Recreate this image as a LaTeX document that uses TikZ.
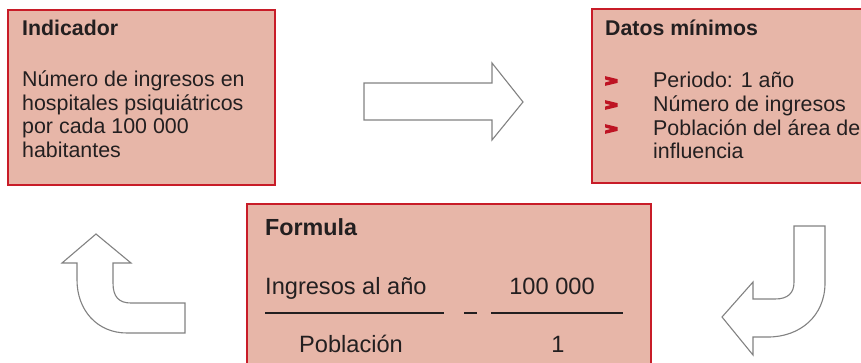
\documentclass[tikz,border=0pt]{standalone}
\usepackage{fontspec}
\setmainfont{Liberation Sans}
\definecolor{boxfill}{RGB}{231,182,168}
\definecolor{boxline}{RGB}{200,28,40}
\definecolor{txt}{RGB}{35,31,32}
\definecolor{arrowline}{RGB}{130,130,130}
\definecolor{bulletred}{RGB}{190,20,35}
\begin{document}
\begin{tikzpicture}[x=1pt,y=-1pt,
  panel/.style={fill=boxfill,draw=boxline,line width=1.3pt},
  body/.style={anchor=base west,inner sep=0pt,text=txt,font=\fontsize{21.4}{24}\selectfont},
  bodyc/.style={anchor=base,inner sep=0pt,text=txt,font=\fontsize{23.6}{27}\selectfont},
  bodyl/.style={anchor=base west,inner sep=0pt,text=txt,font=\fontsize{23.6}{27}\selectfont},
  title/.style={anchor=base west,inner sep=0pt,text=txt,font=\bfseries\fontsize{21.3}{24}\selectfont},
  ftitle/.style={anchor=base west,inner sep=0pt,text=txt,font=\bfseries\fontsize{23.3}{27}\selectfont},
  chevron/.style={fill=bulletred},
  bigarrow/.style={draw=arrowline,fill=white,line width=1.1pt,line join=miter},
  fracline/.style={draw=txt,line width=2pt}]
\useasboundingbox (0,0) rectangle (861,362);
% panels
\draw[panel] (8,10) rectangle (275,185);
\draw[panel] (592,9) rectangle (866,183);
\draw[panel] (247,204) rectangle (651,368);
% box 1
\node[title] (t1) at (22,35) {Indicador};
\node[body] (a1) at (22,86) {Número de ingresos en};
\node[body] (a2) at (22,110) {hospitales psiquiátricos};
\node[body] (a3) at (22,133.5) {por cada 100 000};
\node[body] (a4) at (22,157) {habitantes};
% box 2
\node[title] (t2) at (605,35) {Datos mínimos};
\coordinate (b1) at (605,81);
\coordinate (b2) at (605,105);
\coordinate (b3) at (605,129);
\foreach \b in {b1,b2,b3}
  \fill[chevron,shift={(\b)}] (0,-4.9) -- (12.5,-1.9) -- (12.5,1.9) -- (0,4.9) -- (0,1.6) -- (5.5,0) -- (0,-1.6) -- cycle;
\node[body] (d1) at (653,87) {Periodo: 1 año};
\node[body] (d2) at (653,111) {Número de ingresos};
\node[body] (d3) at (653,135) {Población del área de};
\node[body] (d4) at (653,158) {influencia};
% box 3
\node[ftitle] (t3) at (265,235) {Formula};
\node[bodyl] (f1) at (265,294) {Ingresos al año};
\node[bodyc] (f2) at (552,294) {100 000};
\node[bodyc] (f3) at (351,352) {Población};
\node[bodyc] (f4) at (558,352) {1};
\coordinate (l1a) at (265,313); \coordinate (l1b) at (444,313);
\coordinate (m1) at (464,313); \coordinate (m2) at (477,313);
\coordinate (l2a) at (491,313); \coordinate (l2b) at (623,313);
\draw[fracline] (l1a) -- (l1b);
\draw[fracline] (m1) -- (m2);
\draw[fracline] (l2a) -- (l2b);
% right arrow
\draw[bigarrow] (364,83) -- (492,83) -- (492,63) -- (523,102) -- (492,140) -- (492,120) -- (364,120) -- cycle;
% up-left arrow
\draw[bigarrow] (96,234) -- (131,263) -- (113,263) -- (113,283)
  .. controls (113,297) and (119,303) .. (131,303) -- (185,303) -- (185,333) -- (127,333)
  .. controls (97,333) and (77,310) .. (77,280) -- (77,263) -- (62,263) -- cycle;
% down-left arrow
\draw[bigarrow] (794,226) -- (825,226) -- (825,283)
  .. controls (825,316) and (800,337) .. (768,337) -- (753,337) -- (753,355) -- (722,317)
  -- (753,282) -- (753,299) -- (775,299) .. controls (788,299) and (794,293) .. (794,282) -- cycle;
\end{tikzpicture}
\end{document}
